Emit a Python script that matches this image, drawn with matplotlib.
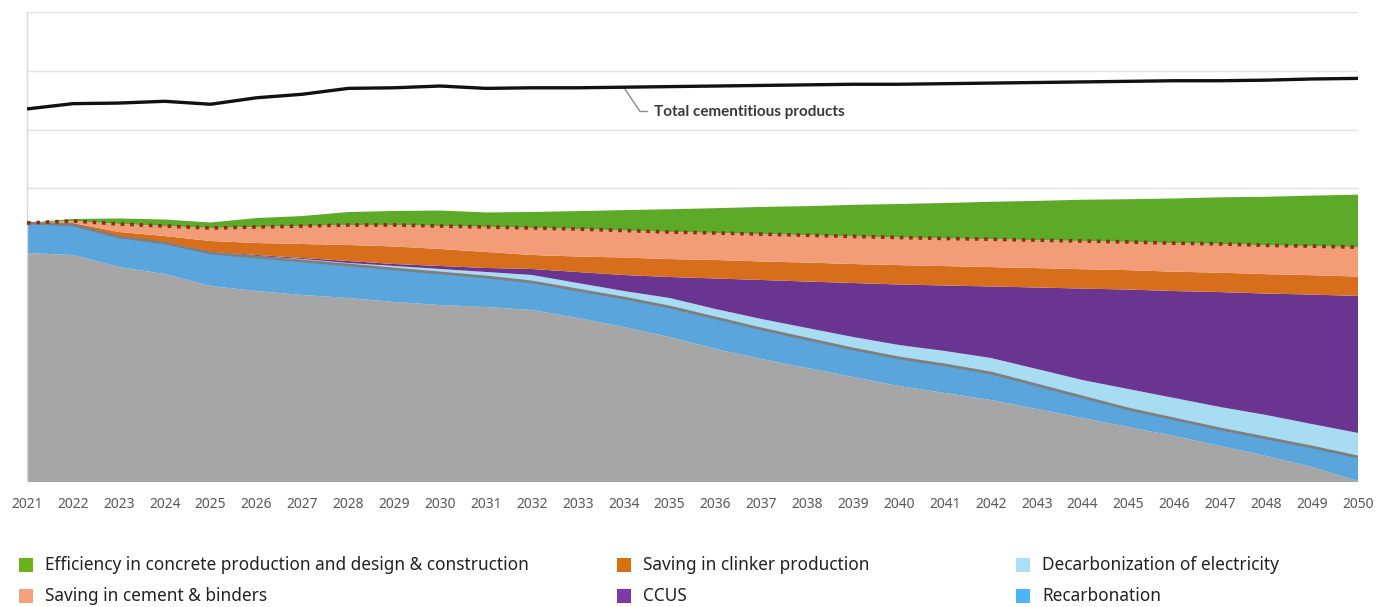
import matplotlib
matplotlib.use("Agg")
import matplotlib.pyplot as plt
from matplotlib.patches import Rectangle
import numpy as np

plt.rcParams['font.family'] = ['Noto Sans', 'DejaVu Sans']

years = list(range(2021, 2051))

residual = [3.898, 3.864, 3.660, 3.540, 3.336, 3.251, 3.183, 3.132, 3.064, 3.013,
            2.979, 2.928, 2.791, 2.638, 2.468, 2.264, 2.094, 1.940, 1.787, 1.634,
            1.515, 1.396, 1.243, 1.089, 0.936, 0.783, 0.613, 0.443, 0.255, 0.017]
recarbonation = [0.511, 0.511, 0.511, 0.528, 0.562, 0.579, 0.579, 0.562, 0.562, 0.545,
                 0.511, 0.477, 0.477, 0.494, 0.511, 0.528, 0.511, 0.494, 0.477, 0.477,
                 0.477, 0.460, 0.409, 0.357, 0.306, 0.289, 0.289, 0.306, 0.340, 0.409]
electricity = [0.000, 0.000, 0.000, 0.017, 0.017, 0.017, 0.034, 0.034, 0.051, 0.068,
               0.085, 0.119, 0.119, 0.119, 0.153, 0.153, 0.170, 0.187, 0.204, 0.221,
               0.238, 0.255, 0.272, 0.289, 0.340, 0.357, 0.374, 0.391, 0.391, 0.409]
ccus = [0.000, 0.000, 0.000, 0.000, 0.000, 0.017, 0.017, 0.034, 0.034, 0.051,
        0.068, 0.102, 0.187, 0.272, 0.357, 0.519, 0.664, 0.791, 0.919, 1.030,
        1.115, 1.217, 1.387, 1.557, 1.694, 1.821, 1.957, 2.068, 2.204, 2.332]
clinker = [0.000, 0.034, 0.085, 0.102, 0.187, 0.204, 0.238, 0.272, 0.298, 0.289,
           0.272, 0.238, 0.264, 0.298, 0.306, 0.315, 0.315, 0.323, 0.323, 0.330,
           0.330, 0.330, 0.330, 0.330, 0.330, 0.330, 0.330, 0.330, 0.330, 0.330]
cement = [0.000, 0.034, 0.136, 0.170, 0.221, 0.272, 0.306, 0.340, 0.366, 0.391,
          0.426, 0.460, 0.468, 0.460, 0.460, 0.460, 0.465, 0.465, 0.470, 0.470,
          0.470, 0.475, 0.475, 0.480, 0.480, 0.485, 0.490, 0.490, 0.495, 0.500]
efficiency = [0.000, 0.034, 0.094, 0.111, 0.094, 0.153, 0.170, 0.221, 0.238, 0.264,
              0.247, 0.272, 0.305, 0.347, 0.388, 0.422, 0.463, 0.495, 0.538, 0.570,
              0.604, 0.637, 0.669, 0.703, 0.727, 0.761, 0.793, 0.827, 0.860, 0.894]
total_cementitious = [6.35, 6.44, 6.45, 6.48, 6.43, 6.54, 6.60, 6.70, 6.71, 6.74,
                      6.70, 6.71, 6.71, 6.72, 6.73, 6.74, 6.75, 6.76, 6.77, 6.77,
                      6.78, 6.79, 6.80, 6.81, 6.82, 6.83, 6.83, 6.84, 6.86, 6.87]

area_colors = ['#A6A6A6', '#5BA5DD', '#A8DCF2', '#6A3590', '#D76E1C', '#F39D78', '#5CAA28']

legend_labels = ['Efficiency in concrete production and design & construction',
                 'Saving in cement & binders',
                 'Saving in clinker production',
                 'CCUS',
                 'Decarbonization of electricity',
                 'Recarbonation']
legend_colors = ['#6AB31C', '#F9A07F', '#D5720F', '#7A3BA8', '#ABDFF5', '#4BB5F6']

fig = plt.figure(figsize=(13.77, 6.07), dpi=100)
ax = fig.add_axes([27/1377, 1 - 482/607, (1358-27)/1377, (482-12)/607])

ax.set_axisbelow(True)
ax.yaxis.grid(True, color='#E3E3E3', linewidth=1)
ax.stackplot(years, residual, recarbonation, electricity, ccus, clinker, cement, efficiency,
             colors=area_colors, linewidth=0, zorder=2)

y = np.array(years)
base_line = np.array(residual) + np.array(recarbonation)
dotted = base_line + np.array(electricity) + np.array(ccus) + np.array(clinker) + np.array(cement)
ax.plot(y, base_line, color='#7F7F7F', linewidth=2, zorder=3)
ax.plot(y, dotted, color='#8B2E16', linewidth=2.6, linestyle=(0, (1, 1.6)), zorder=3)
ax.plot(y, total_cementitious, color='#111111', linewidth=2.4, zorder=4, solid_capstyle='butt')

idx = years.index(2034)
ax.annotate('Total cementitious products', xy=(2034, total_cementitious[idx]),
            xytext=(22, -17.5), textcoords='offset points', ha='left', va='center',
            fontsize=11, fontweight='bold', color='#3A3A3A',
            family=['Lato', 'Noto Sans', 'DejaVu Sans'],
            arrowprops=dict(arrowstyle='-', color='#8A8A8A', lw=1,
                            connectionstyle='angle,angleA=0,angleB=-56',
                            shrinkA=3, shrinkB=0))

ax.set_xlim(2021, 2050)
ax.set_ylim(0, 8)
ax.set_yticks(range(0, 9))
ax.set_yticklabels([])
ax.set_xticks(years)
ax.set_xticklabels([str(v) for v in years], fontsize=10, color='#595959')
ax.tick_params(axis='both', length=0, pad=11)
for s in ['top', 'right', 'bottom']:
    ax.spines[s].set_visible(False)
ax.spines['left'].set_color('#D9D9D9')
ax.spines['left'].set_linewidth(1)

# legend (manual layout, three columns)
col_x = [19, 617, 1016]
row_y = [565, 596]
sq = 13.5
for i, (lab, col) in enumerate(zip(legend_labels, legend_colors)):
    c, r = divmod(i, 2)
    x0 = col_x[c]
    yc = row_y[r]
    fig.patches.append(Rectangle((x0/1377, 1 - (yc + sq/2)/607), sq/1377, sq/607,
                                 transform=fig.transFigure, facecolor=col, edgecolor='none'))
    fig.text((x0 + 26)/1377, 1 - yc/607, lab, fontsize=12.4, color='#222222',
             ha='left', va='center')

fig.savefig('out.png', dpi=100)
